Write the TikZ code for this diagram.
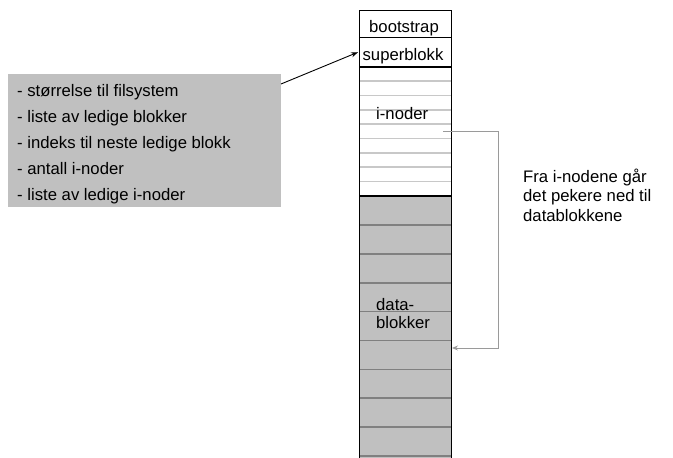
\documentclass[tikz,border=0pt]{standalone}
\usepackage{fontspec}
\setmainfont{Liberation Sans}
\usetikzlibrary{arrows.meta}
\definecolor{blockgray}{HTML}{C0C0C0}
\definecolor{linegray}{HTML}{808080}
\definecolor{ilinegray}{HTML}{C8C8C8}
\definecolor{ptrgray}{HTML}{9A9A9A}
\begin{document}
\begin{tikzpicture}[x=1pt,y=-1pt,
  font=\fontsize{16.7}{20}\selectfont,
  region/.style={inner sep=0pt, anchor=north west, minimum width=92pt},
  lbl/.style={inner sep=0pt, anchor=base west},
  clbl/.style={inner sep=0pt, anchor=base},
  ilines/.style={draw=ilinegray, line width=1.4pt},
  dlines/.style={draw=linegray, line width=1.4pt},
  ptr/.style={draw=ptrgray, line width=0.9pt, -{Stealth[length=6pt,width=5pt]}},
  supptr/.style={draw=black, line width=0.9pt, -{Stealth[length=7pt,width=5pt]}}]
\useasboundingbox (0,0) rectangle (673,458);

% info box
\node[fill=blockgray, inner sep=0pt, anchor=north west, minimum width=273pt, minimum height=133pt] (info) at (8,74) {};
\node[lbl] (t1) at (17,96) {- størrelse til filsystem};
\node[lbl] (t2) at (17,122) {- liste av ledige blokker};
\node[lbl] (t3) at (17,148) {- indeks til neste ledige blokk};
\node[lbl] (t4) at (17,174) {- antall i-noder};
\node[lbl] (t5) at (17,200) {- liste av ledige i-noder};

% column regions
\node[region, minimum height=27pt] (boot) at (359,10) {};
\node[region, minimum height=30pt] (super) at (359,37) {};
\node[region, minimum height=129pt] (inodes) at (359,67) {};
\node[region, minimum height=262pt, fill=blockgray] (data) at (359,196) {};

% inode lines
\foreach \y in {81,95.5,110,124,138.5,153,167,181.5}
  \draw[ilines] (359,\y) -- (451,\y);
% data lines
\foreach \y in {225,254,283,311.5,340.5,369.5,398,427,456}
  \draw[dlines] (359,\y) -- (451,\y);

% outline
\draw[line width=1pt] (boot.south west) |- (boot.north east) -- (data.south east);
\draw[line width=1pt] (boot.north west) -- (data.south west);
\draw[line width=1.5pt] (boot.south west) -- (boot.south east);
\draw[line width=2pt] (super.south west) -- (super.south east);
\draw[line width=2pt] (inodes.south west) -- (inodes.south east);

% labels
\node[clbl] (lboot) at (404,32) {bootstrap};
\node[clbl] (lsuper) at (403,60) {superblokk};
\node[lbl] (linode) at (376,119) {i-noder};
\node[lbl] (ldata1) at (376,310) {data-};
\node[lbl] (ldata2) at (376,328.5) {blokker};

% note
\node[lbl] (n1) at (523,182) {Fra i-nodene går};
\node[lbl] (n2) at (523,201.5) {det pekere ned til};
\node[lbl] (n3) at (523,221) {datablokkene};

% connectors
\coordinate (pstart) at (443,131);
\coordinate (xr) at (498,0);
\coordinate (pend) at (452,348);
\draw[ptr] (pstart) -- (pstart -| xr) |- (pend);

\coordinate (infoout) at (281,84);
\draw[supptr] (infoout) -- ([xshift=-1pt]super.west);
\end{tikzpicture}
\end{document}
